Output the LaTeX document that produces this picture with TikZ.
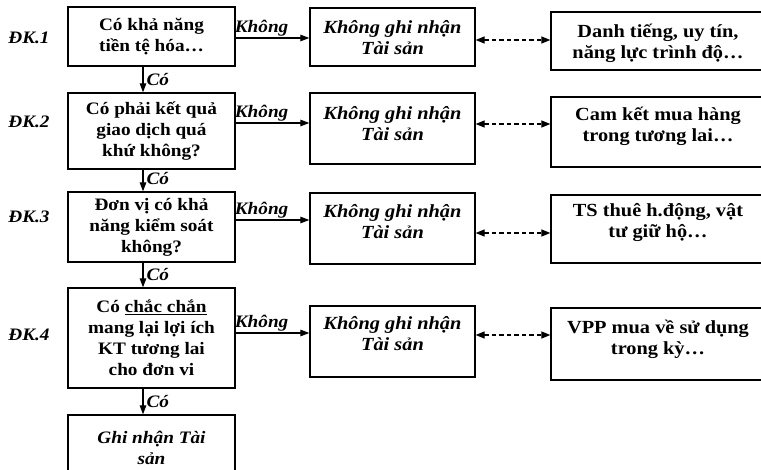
\documentclass[tikz,border=0pt]{standalone}
\usepackage{fontspec}
\setmainfont{Liberation Serif}[FakeStretch=1.1]
\usetikzlibrary{arrows.meta,calc}
\newcommand\boxfont{\fontsize{17.5pt}{21pt}\selectfont\bfseries}
\newcommand\exfont{\fontsize{18.5pt}{21pt}\selectfont\bfseries}
\newcommand\tagfont{\fontsize{17.5pt}{21pt}\selectfont\bfseries\itshape}
\newcommand\midfont{\fontsize{18.5pt}{21pt}\selectfont\bfseries\itshape}
\begin{document}
\begin{tikzpicture}[x=1pt,y=1pt,
  box/.style={draw, line width=1.3pt, inner sep=0pt, align=center, font=\boxfont},
  leftbox/.style={box, minimum width=167pt},
  midbox/.style={box, minimum width=165pt},
  rightbox/.style={box, minimum width=214pt},
  boxtext/.style={align=center, inner sep=0pt, font=\exfont},
  itext/.style={align=center, inner sep=0pt, font=\midfont},
  tag/.style={inner sep=0pt, font=\tagfont},
  arr/.style={line width=1.2pt, -{Triangle[length=9pt,width=6.5pt]}},
  darr/.style={line width=1.2pt, dash pattern=on 4.5pt off 3pt,
    {Triangle[length=9pt,width=7pt]}-{Triangle[length=9pt,width=7pt]}},
]
\useasboundingbox (0,0) rectangle (761,-470);
\clip (0,0) rectangle (761,-470);

% condition boxes (left column)
\node[leftbox, minimum height=59pt]  (lb1) at (151.5,-36.5) {Có khả năng\\tiền tệ hóa…};
\node[leftbox, minimum height=76pt]  (lb2) at (151.5,-131)  {Có phải kết quả\\giao dịch quá\\khứ không?};
\node[leftbox, minimum height=70pt]  (lb3) at (151.5,-227)  {Đơn vị có khả\\năng kiểm soát\\không?};
\node[leftbox, minimum height=100pt] (lb4) at (151.5,-338)  {Có \underline{chắc chắn}\\mang lại lợi ích\\KT tương lai\\cho đơn vi};
\node[leftbox, minimum height=66pt, font=\tagfont] (lb5) at (151.5,-448) {Ghi nhận Tài\\sản};

% condition tags
\node[tag] (dk1) at (29,-38)  {ĐK.1};
\node[tag] (dk2) at (29,-122) {ĐK.2};
\node[tag] (dk3) at (29,-217) {ĐK.3};
\node[tag] (dk4) at (29,-335) {ĐK.4};

% "not recognised" boxes (middle column)
\node[midbox, minimum height=58pt] (mb1) at (392.5,-37)    {};
\node[midbox, minimum height=71pt] (mb2) at (392.5,-128.5) {};
\node[midbox, minimum height=71pt] (mb3) at (392.5,-228.5) {};
\node[midbox, minimum height=71pt] (mb4) at (392.5,-341.5) {};
\node[itext] (mt1) at ([yshift=-1pt]mb1.center)  {Không ghi nhận\\Tài sản};
\node[itext] (mt2) at ([yshift=4.5pt]mb2.center) {Không ghi nhận\\Tài sản};
\node[itext] (mt3) at ([yshift=6.5pt]mb3.center) {Không ghi nhận\\Tài sản};
\node[itext] (mt4) at ([yshift=7.5pt]mb4.center) {Không ghi nhận\\Tài sản};

% examples (right column)
\node[rightbox, minimum height=58pt] (rb1) at (658,-41)  {};
\node[rightbox, minimum height=70pt] (rb2) at (658,-132) {};
\node[rightbox, minimum height=68pt] (rb3) at (658,-229) {};
\node[rightbox, minimum height=72pt] (rb4) at (658,-344) {};
\node[boxtext] (rt1) at ([yshift=-2pt]rb1.center) {Danh tiếng, uy tín,\\năng lực trình độ…};
\node[boxtext] (rt2) at ([yshift=6pt]rb2.center)  {Cam kết mua hàng\\trong tương lai…};
\node[boxtext] (rt3) at ([yshift=6pt]rb3.center)  {TS thuê h.động, vật\\tư giữ hộ…};
\node[boxtext] (rt4) at ([yshift=5pt]rb4.center)  {VPP mua về sử dụng\\trong kỳ…};

% "yes" path downwards
\foreach \a/\b in {lb1/lb2, lb2/lb3, lb3/lb4, lb4/lb5}{
  \draw[arr] ([xshift=-8.5pt]\a.south) coordinate (s) -- (s |- \b.north)
    node[tag, anchor=base west, pos=1, xshift=3pt, yshift=7pt] {Có};
}

% "no" branches to the right
\foreach \a/\b/\dy in {lb1/mb1/-1.5, lb2/mb2/8, lb3/mb3/7, lb4/mb4/5}{
  \draw[arr] ([yshift=\dy pt]\a.east) coordinate (s) -- (s -| \b.west);
  \node[tag, anchor=base west] at ([xshift=-1pt,yshift=5pt]s) {Không};
}

% links to examples
\foreach \a/\b/\dy in {mb1/rb1/-3, mb2/rb2/4.5, mb3/rb3/-4.5, mb4/rb4/6.5}{
  \draw[darr] ([yshift=\dy pt]\a.east) coordinate (s) -- (s -| \b.west);
}
\end{tikzpicture}
\end{document}
